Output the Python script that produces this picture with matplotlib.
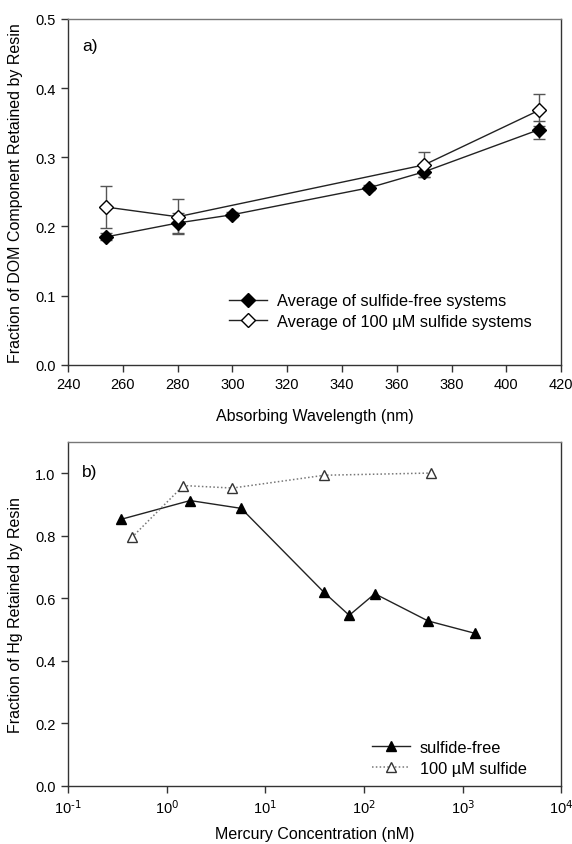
import numpy as np
import matplotlib
matplotlib.use("Agg")
import matplotlib.pyplot as plt
from matplotlib.ticker import LogLocator, NullLocator, FuncFormatter, MultipleLocator

plt.rcParams['font.family'] = ['Liberation Sans', 'DejaVu Sans']
plt.rcParams['mathtext.default'] = 'regular'
plt.rcParams['axes.unicode_minus'] = False

# panel a) - DOM retained by resin
wl_free = [254, 280, 300, 350, 370, 412]
frac_free = [0.185, 0.205, 0.217, 0.256, 0.279, 0.340]
err_free = [0.005, 0.015, 0.004, 0.004, 0.008, 0.013]

wl_sulf = [254, 280, 370, 412]
frac_sulf = [0.228, 0.214, 0.289, 0.368]
err_sulf = [0.030, 0.025, 0.018, 0.023]

# panel b) - Hg retained by resin
hg_free = [0.345, 1.73, 5.7, 39.5, 71, 129, 447, 1350]
ret_free = [0.852, 0.912, 0.887, 0.618, 0.545, 0.614, 0.527, 0.487]

hg_sulf = [0.443, 1.48, 4.64, 39.8, 479]
ret_sulf = [0.794, 0.960, 0.952, 0.993, 1.0]

fig = plt.figure(figsize=(5.72, 8.45), dpi=100)
ax1 = fig.add_axes([0.119, 0.567, 0.862, 0.4095])
ax2 = fig.add_axes([0.119, 0.069, 0.862, 0.407])

spine_dark = '#333333'
spine_light = '#777777'

for ax in (ax1, ax2):
    ax.spines['left'].set_color(spine_dark)
    ax.spines['bottom'].set_color(spine_dark)
    ax.spines['top'].set_color(spine_light)
    ax.spines['right'].set_color(spine_dark)
    for s in ax.spines.values():
        s.set_linewidth(1.0)
    ax.tick_params(direction='out', length=5, width=1, color=spine_dark,
                   labelsize=10.5, top=False, right=False, pad=4)


def log_label(v, pos):
    # 10 with a plain hyphen in the exponent, like the original
    return r'$10^{\text{%d}}$' % int(round(np.log10(v)))


# --- panel a
ax1.errorbar(wl_free, frac_free, yerr=err_free, fmt='none', ecolor='#555555',
             elinewidth=1, capsize=4, capthick=1, zorder=2)
ax1.errorbar(wl_sulf, frac_sulf, yerr=err_sulf, fmt='none', ecolor='#555555',
             elinewidth=1, capsize=4, capthick=1, zorder=2)
ax1.plot(wl_free, frac_free, color='#222222', lw=1, marker='D', ms=7,
         mfc='black', mec='black', label='Average of sulfide-free systems', zorder=3)
ax1.plot(wl_sulf, frac_sulf, color='#222222', lw=1, marker='D', ms=7,
         mfc='white', mec='black', label='Average of 100 \u00b5M sulfide systems', zorder=4)
ax1.set_xlim(240, 420)
ax1.set_ylim(0, 0.5)
ax1.xaxis.set_major_locator(MultipleLocator(20))
ax1.yaxis.set_major_locator(MultipleLocator(0.1))
ax1.yaxis.set_major_formatter(FuncFormatter(lambda v, p: f'{v:.1f}'))
ax1.set_xlabel('Absorbing Wavelength (nm)', fontsize=11.5, labelpad=12)
ax1.set_ylabel('Fraction of DOM Component Retained by Resin', fontsize=11.5, labelpad=9)
ax1.text(0.028, 0.91, 'a)', transform=ax1.transAxes, fontsize=12.5)
ax1.legend(loc='lower left', bbox_to_anchor=(0.31, 0.08), frameon=False,
           fontsize=11.8, handlelength=2.3, handletextpad=0.6, labelspacing=0.35,
           borderpad=0)

# --- panel b
ax2.plot(hg_free, ret_free, color='#222222', lw=1, marker='^', ms=7,
         mfc='black', mec='black', label='sulfide-free', zorder=3)
ax2.plot(hg_sulf, ret_sulf, color='#777777', lw=1.1, ls=(0, (1, 1.5)), marker='^', ms=7,
         mfc='white', mec='#333333', label='100 \u00b5M sulfide', zorder=4)
ax2.set_xscale('log')
ax2.set_xlim(0.1, 1e4)
ax2.set_ylim(0, 1.1)
ax2.xaxis.set_major_locator(LogLocator(base=10, numticks=10))
ax2.xaxis.set_minor_locator(NullLocator())
ax2.xaxis.set_major_formatter(FuncFormatter(log_label))
ax2.yaxis.set_major_locator(MultipleLocator(0.2))
ax2.yaxis.set_major_formatter(FuncFormatter(lambda v, p: f'{v:.1f}'))
ax2.set_xlabel('Mercury Concentration (nM)', fontsize=11.5, labelpad=7)
ax2.set_ylabel('Fraction of Hg Retained by Resin', fontsize=11.5, labelpad=9)
ax2.text(0.028, 0.9, 'b)', transform=ax2.transAxes, fontsize=12.5)
ax2.legend(loc='lower left', bbox_to_anchor=(0.6, 0.005), frameon=False,
           fontsize=11.8, handlelength=2.3, handletextpad=0.6, labelspacing=0.35,
           borderpad=0)

fig.savefig('out.png', dpi=100)
